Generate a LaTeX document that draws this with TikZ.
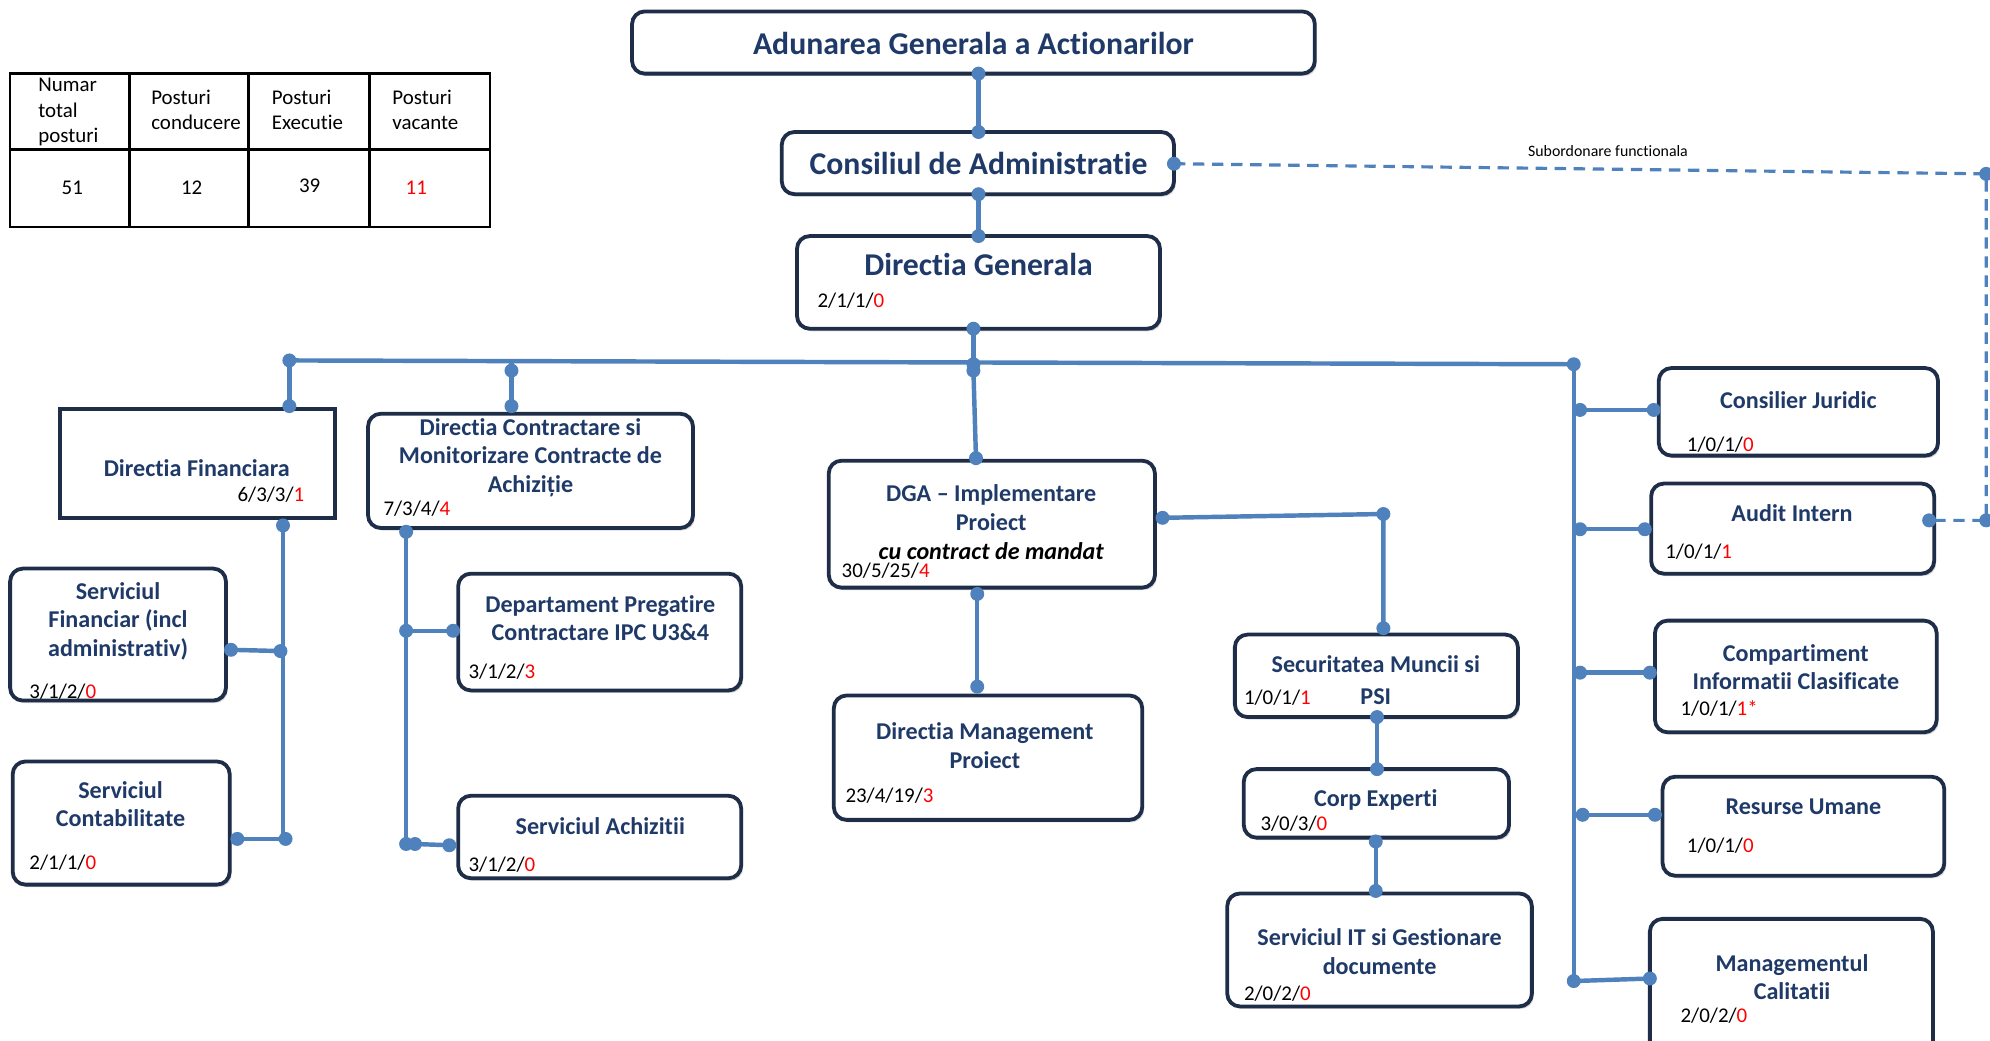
\documentclass[tikz,border=0pt]{standalone}
\usepackage{fontspec}
\setmainfont{Carlito}[Ligatures=NoCommon, RawFeature={-liga;-clig;-dlig}]
\usetikzlibrary{shadows}
\definecolor{navy}{RGB}{31,58,104}
\definecolor{lblue}{RGB}{79,129,189}
\definecolor{bord}{RGB}{30,45,72}
\definecolor{vred}{RGB}{255,0,0}
\newcommand{\rd}[1]{\textcolor{vred}{#1}}
\tikzset{
 box/.style={draw=bord, line width=3pt, rounded corners=10pt, fill=white, inner sep=0pt, outer sep=0pt,
   drop shadow={opacity=0.3, shadow xshift=1.5pt, shadow yshift=-2pt}},
 sqbox/.style={box, rounded corners=0pt},
 conn/.style={draw=lblue, line width=3.5pt},
 dconn/.style={draw=lblue, line width=2.5pt, dash pattern=on 9pt off 6pt},
 ttl/.style={text=navy, font=\fontsize{19}{22.5}\selectfont\bfseries, align=center, inner sep=0pt},
 big/.style={text=navy, font=\fontsize{25}{28}\selectfont\bfseries, inner sep=0pt},
 num/.style={anchor=west, font=\fontsize{16.5}{19}\selectfont, inner sep=0pt},
 tab/.style={font=\fontsize{16.5}{20}\selectfont, inner sep=0pt, align=left, anchor=north west},
 val/.style={font=\fontsize{16.5}{19}\selectfont, inner sep=0pt},
}
\newcommand{\dt}[1]{\fill[lblue] (#1) circle[radius=5.5pt];}
\begin{document}
\begin{tikzpicture}[x=1pt,y=-1pt]
\useasboundingbox (0,0) rectangle (1568,820);
\fill[white] (0,0) rectangle (1568,820);

% table
\draw[line width=2pt] (8,58) rectangle (386,179);
\draw[line width=2pt] (102,58) -- (102,179) (196,58) -- (196,179) (291,58) -- (291,179) (8,118) -- (386,118);
\node[tab] (th1) at (30,61.5) {Numar\\total\\posturi};
\node[tab] (th2) at (119,70.5) {Posturi\\conducere};
\node[tab] (th3) at (214,70.5) {Posturi\\Executie};
\node[tab] (th4) at (309,70.5) {Posturi\\vacante};
\node[val] (tv1) at (57,148) {51};
\node[val] (tv2) at (151,148) {12};
\node[val] (tv3) at (244,146) {39};
\node[val, text=vred] (tv4) at (328,148) {11};

% boxes
\node[box, minimum width=538pt, minimum height=49pt] (aga) at (767,33.5) {};
\node[box, minimum width=309pt, minimum height=49pt] (cons) at (770.5,128.5) {};
\node[box, minimum width=286pt, minimum height=73pt] (dg) at (771,222.5) {};
\node[sqbox, minimum width=217pt, minimum height=86pt] (dfin) at (155.5,365) {};
\node[box, minimum width=170pt, minimum height=104pt] (sfin) at (93,500) {};
\node[box, minimum width=171pt, minimum height=97pt] (scont) at (95.5,648.5) {};
\node[box, minimum width=256pt, minimum height=90pt] (dcon) at (418,371) {};
\node[box, minimum width=223pt, minimum height=92pt] (dprep) at (472.5,498) {};
\node[box, minimum width=223pt, minimum height=65pt] (sach) at (472.5,659.5) {};
\node[box, minimum width=257pt, minimum height=100pt] (dga) at (781.5,413) {};
\node[box, minimum width=243pt, minimum height=98pt] (dmp) at (778.5,597) {};
\node[box, minimum width=223pt, minimum height=65pt] (sec) at (1084.5,532.5) {};
\node[box, minimum width=209pt, minimum height=54pt] (corp) at (1084.5,633) {};
\node[box, minimum width=240pt, minimum height=89pt] (sit) at (1087,748.5) {};
\node[box, minimum width=220pt, minimum height=69pt] (cj) at (1417,324.5) {};
\node[box, minimum width=223pt, minimum height=71pt] (ai) at (1412.5,416.5) {};
\node[box, minimum width=222pt, minimum height=88pt] (cic) at (1415,533) {};
\node[box, minimum width=222pt, minimum height=78pt] (ru) at (1421,651) {};
\node[box, minimum width=223pt, minimum height=106pt] (mc) at (1411.5,777) {};

% texts
\node[big] (t-aga) at (767,34) {Adunarea Generala a Actionarilor};
\node[big] (t-cons) at (771,129) {Consiliul de Administratie};
\node[big] (t-dg) at (771,208) {Directia Generala};
\node[num] (n-dg) at (644,237) {2/1/1/\rd{0}};
\node[ttl] (t-dfin) at (155,369) {Directia Financiara};
\node[num] (n-dfin) at (187,390) {6/3/3/\rd{1}};
\node[ttl] (t-sfin) at (93,489.5) {Serviciul\\Financiar (incl\\administrativ)};
\node[num] (n-sfin) at (23,545) {3/1/2/\rd{0}};
\node[ttl] (t-scont) at (95,633.5) {Serviciul\\Contabilitate};
\node[num] (n-scont) at (23,680) {2/1/1/\rd{0}};
\node[ttl] (t-dcon) at (418,360.5) {Directia Contractare si\\Monitorizare Contracte de\\Achiziție};
\node[num] (n-dcon) at (302,401) {7/3/4/\rd{4}};
\node[ttl] (t-dprep) at (473,487) {Departament Pregatire\\Contractare IPC U3\&4};
\node[num] (n-dprep) at (369,529) {3/1/2/\rd{3}};
\node[ttl] (t-sach) at (473,651) {Serviciul Achizitii};
\node[num] (n-sach) at (369,681) {3/1/2/\rd{0}};
\node[ttl] (t-dga) at (781,400) {DGA – Implementare\\Proiect};
\node[ttl, text=black, font=\fontsize{19}{22.5}\selectfont\bfseries\itshape] (t-dga2) at (781,434) {cu contract de mandat};
\node[num] (n-dga) at (663,450) {30/5/25/\rd{4}};
\node[ttl] (t-dmp) at (776,587.5) {Directia Management\\Proiect};
\node[num] (n-dmp) at (666,627) {23/4/19/\rd{3}};
\node[ttl] (t-sec) at (1084,523) {Securitatea Muncii si};
\node[ttl] (t-sec2) at (1084,549) {PSI};
\node[num] (n-sec) at (980,550) {1/0/1/\rd{1}};
\node[ttl] (t-corp) at (1084,630) {Corp Experti};
\node[num] (n-corp) at (993,649) {3/0/3/\rd{0}};
\node[ttl] (t-sit) at (1087,750) {Serviciul IT si Gestionare\\documente};
\node[num] (n-sit) at (980,783) {2/0/2/\rd{0}};
\node[ttl] (t-cj) at (1417,315) {Consilier Juridic};
\node[num] (n-cj) at (1329,350) {1/0/1/\rd{0}};
\node[ttl] (t-ai) at (1412,404) {Audit Intern};
\node[num] (n-ai) at (1312,435) {1/0/1/\rd{1}};
\node[ttl] (t-cic) at (1415,525.5) {Compartiment\\Informatii Clasificate};
\node[num] (n-cic) at (1324,558) {1/0/1/\rd{1*}};
\node[ttl] (t-ru) at (1421,636) {Resurse Umane};
\node[num] (n-ru) at (1329,666) {1/0/1/\rd{0}};
\node[ttl] (t-mc) at (1412,770) {Managementul\\Calitatii};
\node[num] (n-mc) at (1324,800) {2/0/2/\rd{0}};
\node[font=\fontsize{12.5}{14}\selectfont, inner sep=0pt] (lbl) at (1267,119) {Subordonare functionala};

% coordinates
\coordinate (c1a) at (771,58);   \coordinate (c1b) at (771,104);
\coordinate (c2a) at (771,153);  \coordinate (c2b) at (771,186);
\coordinate (d1) at (925,129);   \coordinate (d2) at (1565,137);
\coordinate (d3) at (1565,410);  \coordinate (d4) at (1520,410);
\coordinate (c3a) at (767,259);  \coordinate (c3b) at (767,287);
\coordinate (busL) at (228,284); \coordinate (busR) at (1240,287);
\coordinate (fa) at (228,320);
\coordinate (ca0) at (403,285.5); \coordinate (ca1) at (403,292); \coordinate (ca2) at (403,320);
\coordinate (ga0) at (767,292);  \coordinate (ga1) at (769,361);
\coordinate (rb) at (1240,773);
\coordinate (r1a) at (1245,323); \coordinate (r1b) at (1303,323);
\coordinate (r2a) at (1245,417); \coordinate (r2b) at (1296,417);
\coordinate (r3a) at (1245,530); \coordinate (r3b) at (1300,530);
\coordinate (r4a) at (1247,642); \coordinate (r4b) at (1304,642);
\coordinate (r5b) at (1300,771);
\coordinate (fin0) at (223,414); \coordinate (fin1) at (221,513); \coordinate (fin2) at (225,661);
\coordinate (fin3) at (223,661);
\coordinate (fb1) at (182,512);  \coordinate (fb2) at (187,661);
\coordinate (con0) at (320,419); \coordinate (con1) at (320,497); \coordinate (con2) at (320,665);
\coordinate (con2b) at (327,665);
\coordinate (cb1) at (357,497);  \coordinate (cb2) at (354,666);
\coordinate (dgr) at (916,408);  \coordinate (dgc) at (1090,405); \coordinate (dgd) at (1090,495);
\coordinate (dgb) at (770,468);  \coordinate (dmt) at (770,541);
\coordinate (secb) at (1085,565); \coordinate (corpt) at (1085,606);
\coordinate (corpb) at (1084,663); \coordinate (sitt) at (1084,702);

% connectors
\draw[dconn] (d1) -- (d2) -- (d3) -- (d4);
\draw[conn] (c1a) -- (c1b);
\draw[conn] (c2a) -- (c2b);
\draw[conn] (c3a) -- (c3b);
\draw[conn] (busL) -- (busR);
\draw[conn] (busL) -- (fa);
\draw[conn] (ca0) -- (ca2);
\draw[conn] (ga0) -- (ga1);
\draw[conn] (busR) -- (rb);
\draw[conn] (r1a) -- (r1b);
\draw[conn] (r2a) -- (r2b);
\draw[conn] (r3a) -- (r3b);
\draw[conn] (r4a) -- (r4b);
\draw[conn] (rb) -- (r5b);
\draw[conn] (fin0) -- (fin3);
\draw[conn] (fb1) -- (fin1);
\draw[conn] (fb2) -- (fin2);
\draw[conn] (con0) -- (con2);
\draw[conn] (con1) -- (cb1);
\draw[conn] (con2) -- (con2b) -- (cb2);
\draw[conn] (dgr) -- (dgc) -- (dgd);
\draw[conn] (dgb) -- (dmt);
\draw[conn] (secb) -- (corpt);
\draw[conn] (corpb) -- (sitt);

% dots
\dt{c1a}\dt{c1b}\dt{c2a}\dt{c2b}\dt{d1}\dt{d2}\dt{d3}\dt{d4}
\dt{c3a}\dt{c3b}\dt{ga0}\dt{busL}\dt{busR}\dt{fa}\dt{ca1}\dt{ca2}\dt{ga1}\dt{rb}
\dt{r1a}\dt{r1b}\dt{r2a}\dt{r2b}\dt{r3a}\dt{r3b}\dt{r4a}\dt{r4b}\dt{r5b}
\dt{fin0}\dt{fin1}\dt{fin2}\dt{fb1}\dt{fb2}
\dt{con0}\dt{con1}\dt{con2}\dt{con2b}\dt{cb1}\dt{cb2}
\dt{dgr}\dt{dgc}\dt{dgd}\dt{dgb}\dt{dmt}\dt{secb}\dt{corpt}\dt{corpb}\dt{sitt}
\end{tikzpicture}
\end{document}
